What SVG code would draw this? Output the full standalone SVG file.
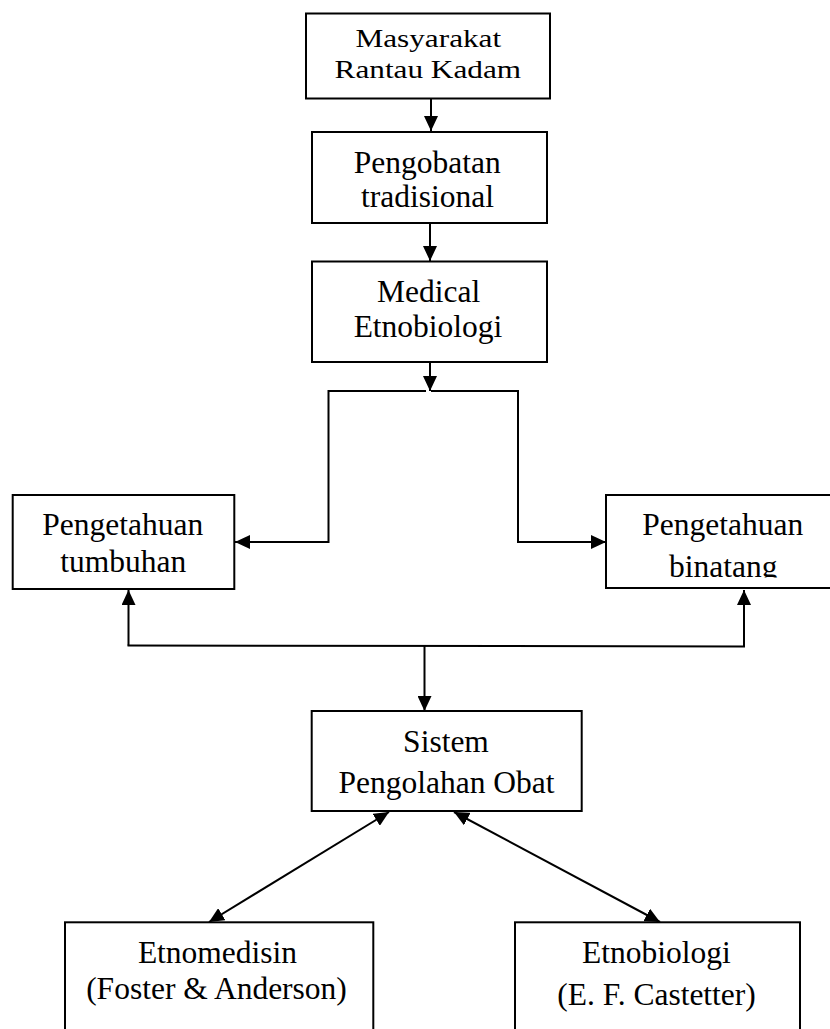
<svg xmlns="http://www.w3.org/2000/svg" width="830" height="1029" viewBox="0 0 830 1029">
<style>
  .box { fill: #ffffff; stroke: #000000; stroke-width: 2; }
  .t { font-family: "Liberation Serif", "Times New Roman", serif; fill: #000000; text-anchor: middle; }
  .s25 { font-size: 25px; }
  .s31 { font-size: 31.5px; }
  .ln { fill: none; stroke: #000000; stroke-width: 2; }
</style>
<defs>
  <marker id="ah" markerUnits="userSpaceOnUse" markerWidth="15" markerHeight="14" refX="15" refY="7" orient="auto" viewBox="0 0 15 14">
    <path d="M0,0 L15,7 L0,14 z" fill="#000000"/>
  </marker>
  <marker id="ahs" markerUnits="userSpaceOnUse" markerWidth="15" markerHeight="14" refX="0" refY="7" orient="auto" viewBox="0 0 15 14">
    <path d="M15,0 L0,7 L15,14 z" fill="#000000"/>
  </marker>
  <clipPath id="clipBin">
    <rect x="600" y="480" width="230" height="97.5"/>
  </clipPath>
</defs>
<rect width="830" height="1029" fill="#ffffff"/>

<g id="connectors">
  <line class="ln" x1="431" y1="98" x2="431" y2="131" marker-end="url(#ah)"/>
  <line class="ln" x1="430" y1="223" x2="430" y2="261" marker-end="url(#ah)"/>
  <line class="ln" x1="430" y1="362" x2="430" y2="391" marker-end="url(#ah)"/>
  <polyline class="ln" points="426,391 328.5,391 328.5,542 235,542" marker-end="url(#ah)"/>
  <polyline class="ln" points="431,391 518,391 518,542 606,542" marker-end="url(#ah)"/>
  <polyline class="ln" points="128.5,645.5 128.5,590" marker-end="url(#ah)"/>
  <polyline class="ln" points="744,646.5 744,590" marker-end="url(#ah)"/>
  <line class="ln" x1="127.5" y1="645.5" x2="745" y2="646.5"/>
  <line class="ln" x1="424.5" y1="646" x2="424.5" y2="711" marker-end="url(#ah)"/>
  <line class="ln" x1="389" y1="812" x2="209" y2="922" marker-start="url(#ahs)" marker-end="url(#ah)"/>
  <line class="ln" x1="454" y1="812" x2="660" y2="922" marker-start="url(#ahs)" marker-end="url(#ah)"/>
</g>

<g id="node-masyarakat">
  <rect class="box" x="306" y="13.5" width="244" height="85"/>
  <text class="t s25" transform="translate(428.3,46.7) scale(1.25,1)">Masyarakat</text>
  <text class="t s25" transform="translate(427.8,78.3) scale(1.25,1)">Rantau Kadam</text>
</g>

<g id="node-pengobatan">
  <rect class="box" x="312" y="132" width="235" height="91"/>
  <text class="t s31" x="427.3" y="173.3">Pengobatan</text>
  <text class="t s31" x="427.5" y="206.7">tradisional</text>
</g>

<g id="node-medical">
  <rect class="box" x="312" y="261.5" width="235" height="100.5"/>
  <text class="t s31" x="428.7" y="301.7">Medical</text>
  <text class="t s31" x="428" y="336.7">Etnobiologi</text>
</g>

<g id="node-tumbuhan">
  <rect class="box" x="12.7" y="495" width="221.6" height="94"/>
  <text class="t s31" x="122.8" y="535">Pengetahuan</text>
  <text class="t s31" x="123.3" y="571.7">tumbuhan</text>
</g>

<g id="node-binatang">
  <rect class="box" x="606" y="495" width="230" height="93"/>
  <text class="t s31" x="722.8" y="535">Pengetahuan</text>
  <text class="t s31" x="723.3" y="577" clip-path="url(#clipBin)">binatang</text>
</g>

<g id="node-sistem">
  <rect class="box" x="311.7" y="711" width="270" height="100"/>
  <text class="t s31" x="446" y="751.7">Sistem</text>
  <text class="t s31" x="446.5" y="793.3">Pengolahan Obat</text>
</g>

<g id="node-etnomedisin">
  <rect class="box" x="65" y="922.3" width="308.3" height="130"/>
  <text class="t s31" x="217.5" y="963">Etnomedisin</text>
  <text class="t s31" x="216.5" y="999">(Foster &amp; Anderson)</text>
</g>

<g id="node-etnobiologi">
  <rect class="box" x="515" y="922.3" width="285" height="130"/>
  <text class="t s31" x="656.3" y="963.3">Etnobiologi</text>
  <text class="t s31" x="656.5" y="1005">(E. F. Castetter)</text>
</g>
</svg>
